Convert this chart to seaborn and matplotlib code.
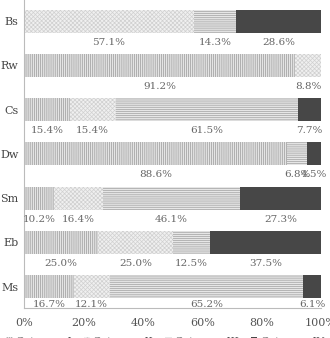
import matplotlib
matplotlib.use("Agg")
import matplotlib.pyplot as plt
import seaborn as sns
import pandas as pd
import numpy as np

groups = ["Bs", "Rw", "Cs", "Dw", "Sm", "Eb", "Ms"]
cat_names = ["Category I", "Category II", "Category III", "Category IV"]
cat1 = [0.0, 91.2, 15.4, 88.6, 10.2, 25.0, 16.7]
cat2 = [57.1, 8.8, 15.4, 0.0, 16.4, 25.0, 12.1]
cat3 = [14.3, 0.0, 61.5, 6.8, 46.1, 12.5, 65.2]
cat4 = [28.6, 0.0, 7.7, 4.5, 27.3, 37.5, 6.1]

sns.set_style("white")
plt.rcParams["font.family"] = ["DejaVu Serif"]
plt.rcParams["hatch.linewidth"] = 0.5

df = pd.DataFrame({"group": groups, "I": cat1, "II": cat2, "III": cat3, "IV": cat4})
vals = df[["I", "II", "III", "IV"]].to_numpy()
cum = np.cumsum(vals, axis=1)

faces = ["#e4e4e4", "#f0f0f0", "#e6e6e6", "#474747"]
hatch_cols = ["#9a9a9a", "#d0d0d0", "#a0a0a0", "#474747"]
hatches = ["||||||||", "xxxxxxxx", "--------", ""]

fig, ax = plt.subplots(figsize=(3.3, 3.38), dpi=100)
fig.subplots_adjust(left=0.073, right=0.973, top=1.0, bottom=0.089)

# stacked bars: draw cumulative totals from last category to first
for k in range(3, -1, -1):
    sns.barplot(x=cum[:, k], y=df["group"], orient="h", color=faces[k],
                width=0.52, ax=ax, linewidth=0, edgecolor=hatch_cols[k],
                hatch=hatches[k], saturation=1, label=cat_names[k])

# percentage labels under each segment (last row sits closer to its bar)
for i in range(len(groups)):
    off = 0.31 if i == len(groups) - 1 else 0.37
    for k in range(4):
        v = vals[i, k]
        if v <= 0:
            continue
        center = cum[i, k] - v / 2
        ax.text(center, i + off, f"{v:.1f}%", ha="center", va="top",
                fontsize=7.5, color="#666666")

ax.set_xlim(0, 100)
ax.set_ylim(6.48, -0.48)
ax.set_xticks([0, 20, 40, 60, 80, 100])
ax.set_xticklabels(["0%", "20%", "40%", "60%", "80%", "100%"])
ax.tick_params(axis="x", length=3, color="#999999", labelsize=8, labelcolor="#555555", pad=4)
ax.tick_params(axis="y", length=0, labelsize=8, labelcolor="#444444", pad=4)
ax.set_xlabel("")
ax.set_ylabel("")
for s in ["top", "right"]:
    ax.spines[s].set_visible(False)
for s in ["left", "bottom"]:
    ax.spines[s].set_color("#bbbbbb")
    ax.spines[s].set_linewidth(0.8)

handles, labels = ax.get_legend_handles_labels()
order = [labels.index(n) for n in cat_names]
ax.legend([handles[j] for j in order], cat_names, loc="upper center",
          bbox_to_anchor=(0.5, 0.032), bbox_transform=fig.transFigure,
          ncol=4, frameon=False, fontsize=7.5, handlelength=0.6,
          handleheight=0.6, handletextpad=0.3, columnspacing=1.2,
          labelcolor="#555555")

fig.savefig("out.png", dpi=100)
